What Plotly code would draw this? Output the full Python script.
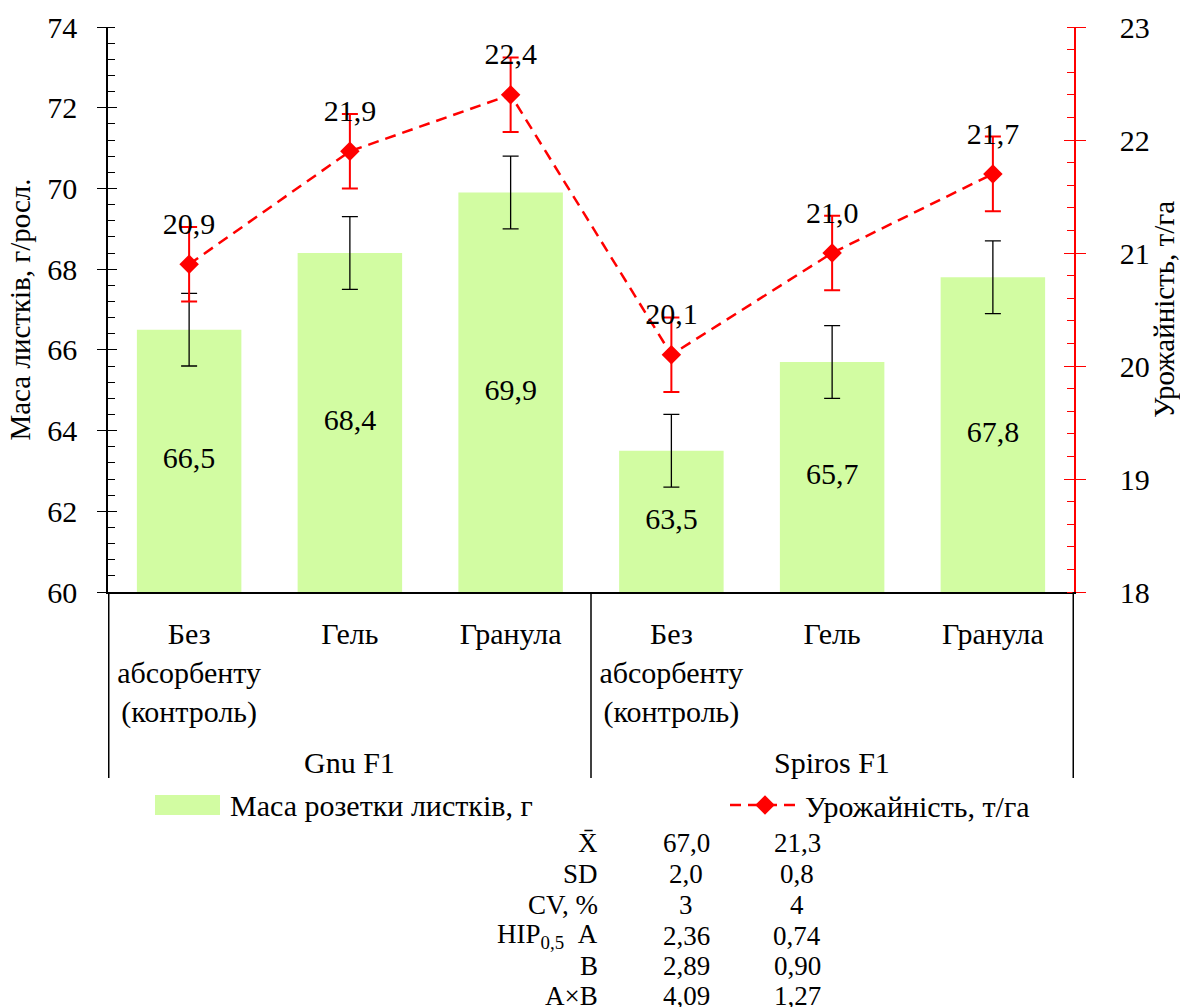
import plotly.graph_objects as go

# Hybrid groups and absorbent treatments
hybrids = ["Gnu F1", "Gnu F1", "Gnu F1", "Spiros F1", "Spiros F1", "Spiros F1"]
treatments = ["Без<br>абсорбенту<br>(контроль)", "Гель", "Гранула",
              "Без<br>абсорбенту<br>(контроль)", "Гель", "Гранула"]
hybrid_names = ["Gnu F1", "Spiros F1"]

# Leaf rosette mass, g per plant, with error margins
leaf_mass = [66.5, 68.4, 69.9, 63.5, 65.7, 67.8]
leaf_mass_err = [0.9, 0.9, 0.9, 0.9, 0.9, 0.9]

# Yield, t/ha, with error margins
yield_tha = [20.9, 21.9, 22.4, 20.1, 21.0, 21.7]
yield_err = [0.33, 0.33, 0.33, 0.33, 0.33, 0.33]

# Summary statistics table
stat_labels = ["X\u0304", "SD", "CV, %", "HIP<sub>0,5</sub>\u00a0\u00a0A", "B", "A×B"]
stat_mass = ["67,0", "2,0", "3", "2,36", "2,89", "4,09"]
stat_yield = ["21,3", "0,8", "4", "0,74", "0,90", "1,27"]

FONT = "Liberation Serif, Times New Roman, serif"
BAR_COLOR = "#d2fca2"
RED = "#ff0000"
MASS_MIN, MASS_MAX = 60, 74
YIELD_MIN, YIELD_MAX = 18, 23

# one unique category key per hybrid/treatment pair
keys = [f"{h} | {t}" for h, t in zip(hybrids, treatments)]

fig = go.Figure()

fig.add_trace(go.Bar(
    x=keys, y=leaf_mass,
    name="Маса розетки листків, г",
    marker=dict(color=BAR_COLOR, line=dict(width=0)),
    error_y=dict(type="data", array=leaf_mass_err, color="black",
                 thickness=1.3, width=8),
    textposition="none",
    showlegend=False, hoverinfo="skip",
))

# bar value labels, centred in the visible part of each bar
fig.add_trace(go.Scatter(
    x=keys, y=[(MASS_MIN + v) / 2 for v in leaf_mass],
    customdata=leaf_mass,
    mode="text", texttemplate="%{customdata:.1f}", textposition="middle center",
    textfont=dict(family=FONT, size=30, color="black"),
    showlegend=False, hoverinfo="skip",
))

fig.add_trace(go.Scatter(
    x=keys, y=yield_tha, yaxis="y2",
    name="Урожайність, т/га",
    mode="lines+markers",
    line=dict(color=RED, width=2.5, dash="11px,7px"),
    marker=dict(symbol="diamond", size=15, color=RED),
    error_y=dict(type="data", array=yield_err, color=RED,
                 thickness=2, width=8),
    legend="legend2", hoverinfo="skip",
))

# value labels above the yield markers
fig.add_trace(go.Scatter(
    x=keys, y=yield_tha, yaxis="y2",
    mode="markers+text",
    marker=dict(size=35, color="rgba(0,0,0,0)"),
    texttemplate="%{y:.1f}", textposition="top center",
    textfont=dict(family=FONT, size=30, color="black"),
    showlegend=False, hoverinfo="skip",
))

# empty traces carrying the inner halves of the major ticks
fig.add_trace(go.Scatter(x=[], y=[], yaxis="y3", showlegend=False, hoverinfo="skip"))
fig.add_trace(go.Scatter(x=[], y=[], yaxis="y4", showlegend=False, hoverinfo="skip"))

tick_font = dict(family=FONT, size=30, color="black")

# pixel helpers for paper-positioned decorations
PLOT_L, PLOT_R, PLOT_T, PLOT_B = 108, 1074, 27, 592


def px_x(px):
    return (px - PLOT_L) / (PLOT_R - PLOT_L)


def px_y(py):
    return (PLOT_B - py) / (PLOT_B - PLOT_T)


fig.update_layout(
    width=1180, height=1007,
    margin=dict(l=PLOT_L, r=1180 - PLOT_R, t=PLOT_T, b=1007 - PLOT_B, autoexpand=False),
    paper_bgcolor="white", plot_bgcolor="white",
    separators=", ",
    font=dict(family=FONT, size=30, color="black"),
    bargap=0.35,
    xaxis=dict(
        type="category", categoryorder="array", categoryarray=keys,
        tickvals=keys, ticktext=treatments,
        showline=True, linecolor="black", linewidth=2,
        ticks="", showgrid=False, zeroline=False, tickangle=0,
        tickfont=tick_font, automargin=False, ticklabelstandoff=14,
    ),
    yaxis=dict(
        range=[MASS_MIN, MASS_MAX], dtick=2, tick0=MASS_MIN,
        showline=True, linecolor="black", linewidth=1.5,
        ticks="outside", ticklen=9, tickwidth=1.3, tickcolor="black",
        minor=dict(dtick=0.4, tick0=MASS_MIN, ticks="inside", ticklen=7,
                   tickwidth=1, tickcolor="black"),
        showgrid=False, zeroline=False, automargin=False,
        tickfont=tick_font, ticklabelstandoff=14,
        title=dict(text="Маса листків, г/росл.", font=dict(family=FONT, size=29),
                   standoff=8),
    ),
    yaxis3=dict(
        range=[MASS_MIN, MASS_MAX], dtick=2, tick0=MASS_MIN, overlaying="y", side="left",
        showline=False, ticks="inside", ticklen=9, tickwidth=1.3, tickcolor="black",
        showticklabels=False, showgrid=False, zeroline=False, automargin=False,
    ),
    yaxis2=dict(
        range=[YIELD_MIN, YIELD_MAX], dtick=1, tick0=YIELD_MIN, overlaying="y", side="right",
        showline=True, linecolor=RED, linewidth=1.5,
        ticks="outside", ticklen=10, tickwidth=1.3, tickcolor=RED,
        minor=dict(dtick=0.2, tick0=YIELD_MIN, ticks="inside", ticklen=7,
                   tickwidth=1, tickcolor=RED),
        showgrid=False, zeroline=False, automargin=False,
        tickfont=tick_font, ticklabelstandoff=28,
        title=dict(text="Урожайність, т/га", font=dict(family=FONT, size=29),
                   standoff=18),
    ),
    yaxis4=dict(
        range=[YIELD_MIN, YIELD_MAX], dtick=1, tick0=YIELD_MIN, overlaying="y", side="right",
        showline=False, ticks="inside", ticklen=10, tickwidth=1.3, tickcolor=RED,
        showticklabels=False, showgrid=False, zeroline=False, automargin=False,
    ),
    legend2=dict(
        orientation="h", x=px_x(725), xanchor="left", y=px_y(805), yanchor="middle",
        font=dict(family=FONT, size=30, color="black"),
        itemwidth=70, bgcolor="rgba(0,0,0,0)",
    ),
)

# hybrid group labels and the dividers framing each group
for i, name in enumerate(hybrid_names):
    fig.add_annotation(xref="x", yref="paper", x=keys[3 * i + 1], y=px_y(762),
                       xanchor="center", yanchor="middle", showarrow=False,
                       text=name, font=dict(family=FONT, size=30, color="black"))
for xd in (-0.5, 2.5, 5.5):
    fig.add_shape(type="line", xref="x", yref="paper", x0=xd, x1=xd,
                  y0=0, y1=px_y(778), line=dict(color="black", width=1.5))

# legend entry for the bars
fig.add_shape(type="rect", xref="paper", yref="paper",
              x0=px_x(155), x1=px_x(220), y0=px_y(815), y1=px_y(795),
              fillcolor=BAR_COLOR, line=dict(width=0))
fig.add_annotation(xref="paper", yref="paper", x=px_x(228), y=px_y(805),
                   xanchor="left", yanchor="middle", showarrow=False,
                   text="Маса розетки листків, г",
                   font=dict(family=FONT, size=30, color="black"))

# statistics table
row_y = [843, 874, 905, 936, 966, 996]
for lab, m, yv, py in zip(stat_labels, stat_mass, stat_yield, row_y):
    fig.add_annotation(xref="paper", yref="paper", x=px_x(600), y=px_y(py),
                       xanchor="right", yanchor="middle", showarrow=False,
                       text=lab, font=dict(family=FONT, size=27, color="black"))
    fig.add_annotation(xref="paper", yref="paper", x=px_x(686), y=px_y(py),
                       xanchor="center", yanchor="middle", showarrow=False,
                       text=m, font=dict(family=FONT, size=27, color="black"))
    fig.add_annotation(xref="paper", yref="paper", x=px_x(797), y=px_y(py),
                       xanchor="center", yanchor="middle", showarrow=False,
                       text=yv, font=dict(family=FONT, size=27, color="black"))

fig.write_html("out.html")
